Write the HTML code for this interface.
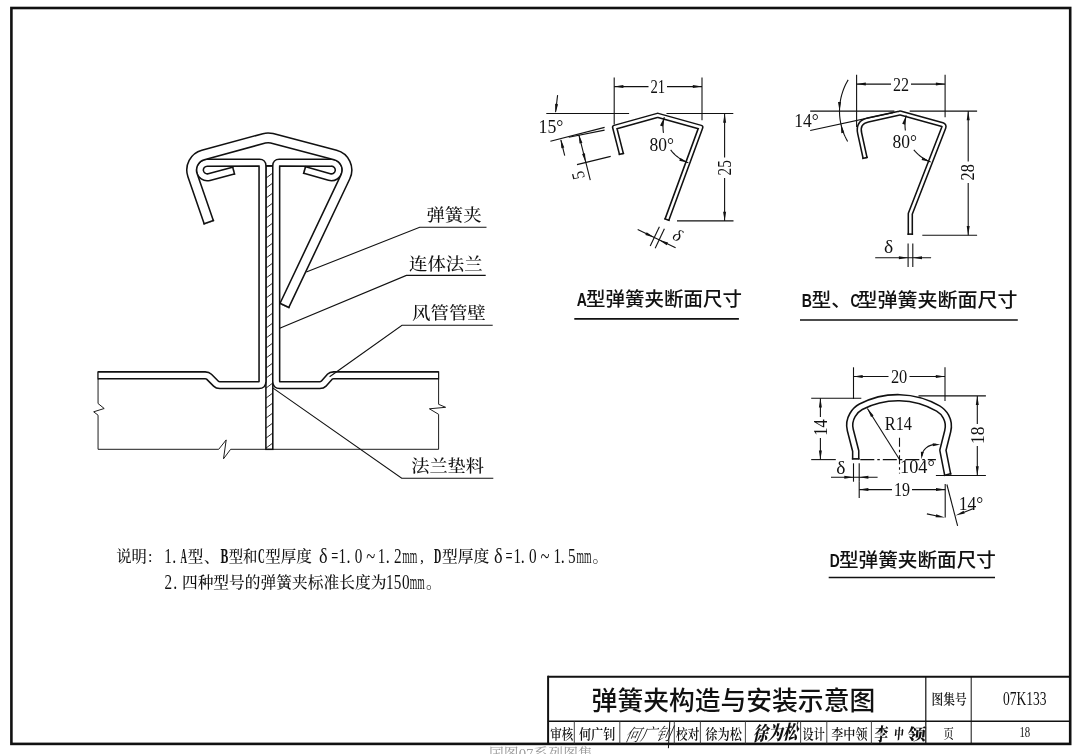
<!DOCTYPE html>
<html lang="zh-CN">
<head>
<meta charset="utf-8">
<title>弹簧夹构造与安装示意图 07K133</title>
<style>
html,body{margin:0;padding:0;background:#fff;}
body{width:1080px;height:754px;overflow:hidden;}
svg{display:block;filter:grayscale(1);}
text{white-space:pre;}
</style>
</head>
<body>
<svg width="1080" height="754" viewBox="0 0 1080 754">
<rect width="1080" height="754" fill="#fff"/>
<rect x="11.4" y="8" width="1058.8" height="735.9" fill="none" stroke="#111" stroke-width="2.6"/>
<line x1="548.1" y1="676.7" x2="1070.2" y2="676.7" stroke="#111" stroke-width="2" />
<line x1="548.1" y1="675.7" x2="548.1" y2="743.9" stroke="#111" stroke-width="2" />
<line x1="548.1" y1="721.2" x2="1070.2" y2="721.2" stroke="#111" stroke-width="1.6" />
<line x1="925.8" y1="676.7" x2="925.8" y2="743.9" stroke="#111" stroke-width="1.2" />
<line x1="971.2" y1="676.7" x2="971.2" y2="743.9" stroke="#111" stroke-width="1" />
<line x1="574.3" y1="721.2" x2="574.3" y2="743.9" stroke="#333" stroke-width="0.9" />
<line x1="619.8" y1="721.2" x2="619.8" y2="743.9" stroke="#333" stroke-width="0.9" />
<line x1="674.3" y1="721.2" x2="674.3" y2="743.9" stroke="#333" stroke-width="0.9" />
<line x1="700.4" y1="721.2" x2="700.4" y2="743.9" stroke="#333" stroke-width="0.9" />
<line x1="745.4" y1="721.2" x2="745.4" y2="743.9" stroke="#333" stroke-width="0.9" />
<line x1="800.6" y1="721.2" x2="800.6" y2="743.9" stroke="#333" stroke-width="0.9" />
<line x1="826.8" y1="721.2" x2="826.8" y2="743.9" stroke="#333" stroke-width="0.9" />
<line x1="871.4" y1="721.2" x2="871.4" y2="743.9" stroke="#333" stroke-width="0.9" />
<polyline points="98.05,371.7 98.05,403.5 104.2,408.5 93.7,411.8 98.05,415.2 98.05,449.3 218.7,449.3 226.2,439.9 223.5,458.8 230.6,449.3 265.9,449.3" fill="none" stroke="#111" stroke-width="0.95" />
<polyline points="272.8,449.3 438.6,449.3 438.6,414.3 429.4,408.8 445.6,407.3 438.6,404.3 438.6,371.7" fill="none" stroke="#111" stroke-width="0.95" />
<rect x="265.9" y="165.9" width="6.9" height="283.4" fill="#fff" stroke="#111" stroke-width="1.55"/>
<line x1="265.9" y1="178.2" x2="272.8" y2="173" stroke="#111" stroke-width="0.9" />
<line x1="265.9" y1="188.2" x2="272.8" y2="183" stroke="#111" stroke-width="0.9" />
<line x1="265.9" y1="198.2" x2="272.8" y2="193" stroke="#111" stroke-width="0.9" />
<line x1="265.9" y1="208.2" x2="272.8" y2="203" stroke="#111" stroke-width="0.9" />
<line x1="265.9" y1="218.2" x2="272.8" y2="213" stroke="#111" stroke-width="0.9" />
<line x1="265.9" y1="228.2" x2="272.8" y2="223" stroke="#111" stroke-width="0.9" />
<line x1="265.9" y1="238.2" x2="272.8" y2="233" stroke="#111" stroke-width="0.9" />
<line x1="265.9" y1="248.2" x2="272.8" y2="243" stroke="#111" stroke-width="0.9" />
<line x1="265.9" y1="258.2" x2="272.8" y2="253" stroke="#111" stroke-width="0.9" />
<line x1="265.9" y1="268.2" x2="272.8" y2="263" stroke="#111" stroke-width="0.9" />
<line x1="265.9" y1="278.2" x2="272.8" y2="273" stroke="#111" stroke-width="0.9" />
<line x1="265.9" y1="288.2" x2="272.8" y2="283" stroke="#111" stroke-width="0.9" />
<line x1="265.9" y1="298.2" x2="272.8" y2="293" stroke="#111" stroke-width="0.9" />
<line x1="265.9" y1="308.2" x2="272.8" y2="303" stroke="#111" stroke-width="0.9" />
<line x1="265.9" y1="318.2" x2="272.8" y2="313" stroke="#111" stroke-width="0.9" />
<line x1="265.9" y1="328.2" x2="272.8" y2="323" stroke="#111" stroke-width="0.9" />
<line x1="265.9" y1="338.2" x2="272.8" y2="333" stroke="#111" stroke-width="0.9" />
<line x1="265.9" y1="348.2" x2="272.8" y2="343" stroke="#111" stroke-width="0.9" />
<line x1="265.9" y1="358.2" x2="272.8" y2="353" stroke="#111" stroke-width="0.9" />
<line x1="265.9" y1="368.2" x2="272.8" y2="363" stroke="#111" stroke-width="0.9" />
<line x1="265.9" y1="378.2" x2="272.8" y2="373" stroke="#111" stroke-width="0.9" />
<line x1="265.9" y1="388.2" x2="272.8" y2="383" stroke="#111" stroke-width="0.9" />
<line x1="265.9" y1="398.2" x2="272.8" y2="393" stroke="#111" stroke-width="0.9" />
<line x1="265.9" y1="408.2" x2="272.8" y2="403" stroke="#111" stroke-width="0.9" />
<line x1="265.9" y1="418.2" x2="272.8" y2="413" stroke="#111" stroke-width="0.9" />
<line x1="265.9" y1="428.2" x2="272.8" y2="423" stroke="#111" stroke-width="0.9" />
<line x1="265.9" y1="438.2" x2="272.8" y2="433" stroke="#111" stroke-width="0.9" />
<line x1="265.9" y1="448.2" x2="272.8" y2="443" stroke="#111" stroke-width="0.9" />
<path d="M234.3,170.3 L209.09,177.05 A7.3,7.3 0 1 1 207.2,162.7 L259.5,162.65 Q262.5,162.65 262.5,165.65 L262.5,381.5 Q262.5,385.1 258.9,385.1 L219.8,385.1 Q217.4,385.1 216,383.7 L209,376.7 Q207.6,375.3 205.2,375.3 L98.05,375.3" fill="none" stroke="#111" stroke-width="8.45" stroke-linejoin="round"/>
<path d="M234.3,170.3 L209.09,177.05 A7.3,7.3 0 1 1 207.2,162.7 L259.5,162.65 Q262.5,162.65 262.5,165.65 L262.5,381.5 Q262.5,385.1 258.9,385.1 L219.8,385.1 Q217.4,385.1 216,383.7 L209,376.7 Q207.6,375.3 205.2,375.3 L98.05,375.3" fill="none" stroke="#fff" stroke-width="5.35" stroke-linejoin="round"/>
<line x1="234.64" y1="174.58" x2="232.46" y2="166.42" stroke="#111" stroke-width="1.55" />
<line x1="98.05" y1="371.2" x2="98.05" y2="379.4" stroke="#111" stroke-width="1.1" />
<path d="M303.9,169.8 L329.41,177.02 A7.3,7.3 0 1 0 331.4,162.7 L279.2,162.65 Q276.2,162.65 276.2,165.65 L276.2,381.5 Q276.2,385.1 279.8,385.1 L319.8,385.1 Q322.2,385.1 323.6,383.7 L329.8,376.7 Q331.2,375.3 333.6,375.3 L438.6,375.3" fill="none" stroke="#111" stroke-width="8.45" stroke-linejoin="round"/>
<path d="M303.9,169.8 L329.41,177.02 A7.3,7.3 0 1 0 331.4,162.7 L279.2,162.65 Q276.2,162.65 276.2,165.65 L276.2,381.5 Q276.2,385.1 279.8,385.1 L319.8,385.1 Q322.2,385.1 323.6,383.7 L329.8,376.7 Q331.2,375.3 333.6,375.3 L438.6,375.3" fill="none" stroke="#fff" stroke-width="5.35" stroke-linejoin="round"/>
<line x1="305.8" y1="165.95" x2="303.49" y2="174.08" stroke="#111" stroke-width="1.55" />
<line x1="438.6" y1="371.2" x2="438.6" y2="379.4" stroke="#111" stroke-width="1.1" />
<line x1="265.9" y1="165.9" x2="272.8" y2="165.9" stroke="#111" stroke-width="1.55" />
<path d="M209,222.8 L192.5,175.08 A15.55,15.55 0 0 1 203.11,155 L264.14,138.35 Q268,137.3 271.87,138.31 L335.34,154.96 A15.55,15.55 0 0 1 345.45,176.66 L284.1,306.1" fill="none" stroke="#111" stroke-width="11.25" stroke-linejoin="round"/>
<path d="M209,222.8 L192.5,175.08 A15.55,15.55 0 0 1 203.11,155 L264.14,138.35 Q268,137.3 271.87,138.31 L335.34,154.96 A15.55,15.55 0 0 1 345.45,176.66 L284.1,306.1" fill="none" stroke="#fff" stroke-width="8.15" stroke-linejoin="round"/>
<line x1="203.43" y1="223.91" x2="214.06" y2="220.23" stroke="#111" stroke-width="1.55" />
<line x1="279.35" y1="302.99" x2="289.51" y2="307.81" stroke="#111" stroke-width="1.55" />
<polyline points="306.3,272.1 419.7,227.2 486.5,227.2" fill="none" stroke="#111" stroke-width="1.1" />
<polyline points="279.7,328.2 406.4,275.4 485.7,275.4" fill="none" stroke="#111" stroke-width="1.1" />
<polyline points="329.6,376.7 402,325.2 492.7,325.2" fill="none" stroke="#111" stroke-width="1.1" />
<polyline points="273.1,388.1 401.7,478.3 493.3,478.3" fill="none" stroke="#111" stroke-width="1.1" />
<path d="M621.6,154.6 L614.6,127.3 L657.7,115.3 L700.8,127.3 L666.7,220.3" fill="none" stroke="#111" stroke-width="5.55" stroke-linejoin="round"/>
<path d="M621.6,154.6 L614.6,127.3 L657.7,115.3 L700.8,127.3 L666.7,220.3" fill="none" stroke="#fff" stroke-width="2.45" stroke-linejoin="round"/>
<line x1="618.72" y1="154.54" x2="624.1" y2="153.16" stroke="#111" stroke-width="1.55" />
<line x1="664.35" y1="218.63" x2="669.57" y2="220.51" stroke="#111" stroke-width="1.55" />
<line x1="614.2" y1="77.4" x2="614.2" y2="124.5" stroke="#111" stroke-width="1.1" />
<line x1="702" y1="77.4" x2="702" y2="120.3" stroke="#111" stroke-width="1.1" />
<line x1="614.2" y1="86.6" x2="648.5" y2="86.6" stroke="#111" stroke-width="1.1" />
<line x1="667" y1="86.6" x2="702" y2="86.6" stroke="#111" stroke-width="1.1" />
<polygon points="614.2,86.6 623.4,85.1 623.4,88.1" fill="#111"/>
<polygon points="702,86.6 692.8,88.1 692.8,85.1" fill="#111"/>
<text x="650.5" y="92.7" font-size="18" font-family="'Liberation Serif','Noto Serif CJK SC',serif" fill="#111" textLength="14.7" lengthAdjust="spacingAndGlyphs" >21</text>
<line x1="546.3" y1="113.5" x2="629.1" y2="113.5" stroke="#111" stroke-width="1.1" />
<line x1="666.5" y1="113.5" x2="733.3" y2="113.5" stroke="#111" stroke-width="1.1" />
<text x="538.6" y="132.6" font-size="18" font-family="'Liberation Serif','Noto Serif CJK SC',serif" fill="#111" textLength="24.8" lengthAdjust="spacingAndGlyphs" >15°</text>
<line x1="557.6" y1="95.1" x2="555.6" y2="112" stroke="#111" stroke-width="1.1" />
<polygon points="555.5,113.1 555.1,103.79 558.08,104.14" fill="#111"/>
<line x1="550.4" y1="141.3" x2="604.6" y2="127.4" stroke="#111" stroke-width="1.1" />
<line x1="568.8" y1="137.2" x2="604.6" y2="130.1" stroke="#111" stroke-width="1.1" />
<line x1="564.7" y1="155.6" x2="560.9" y2="140" stroke="#111" stroke-width="1.1" />
<polygon points="560.6,138.9 564.28,147.46 561.37,148.19" fill="#111"/>
<line x1="578.8" y1="134.6" x2="590.3" y2="180.1" stroke="#111" stroke-width="1.1" />
<polygon points="578.7,134.2 582.43,142.74 579.52,143.49" fill="#111"/>
<polygon points="585.8,162.5 582.07,153.96 584.98,153.21" fill="#111"/>
<line x1="577" y1="164.6" x2="610.7" y2="156.4" stroke="#111" stroke-width="1.1" />
<text x="585" y="177.8" font-size="18" font-family="'Liberation Serif','Noto Serif CJK SC',serif" fill="#111" textLength="8" lengthAdjust="spacingAndGlyphs" transform="rotate(-104 585 177.8)" >5</text>
<text x="649.5" y="150.9" font-size="18" font-family="'Liberation Serif','Noto Serif CJK SC',serif" fill="#111" textLength="24.5" lengthAdjust="spacingAndGlyphs" >80°</text>
<polyline points="664.29,117.16 663.83,119.1 663.47,121.06 663.21,123.03 663.05,125.01 663,127 663.05,128.99 663.21,130.97 663.47,132.94" fill="none" stroke="#111" stroke-width="1.1" />
<polyline points="670.65,149.87 672.04,151.61 673.54,153.26 675.12,154.83 676.8,156.3 678.56,157.66 680.39,158.93 682.3,160.08 684.27,161.12 686.3,162.04 688.38,162.84" fill="none" stroke="#111" stroke-width="1.1" />
<polygon points="664.29,117.16 662.88,126.38 660.03,125.45" fill="#111"/>
<polygon points="688.38,162.84 679.29,160.79 680.41,158.01" fill="#111"/>
<line x1="677" y1="220.9" x2="733.5" y2="220.9" stroke="#111" stroke-width="1.1" />
<line x1="724.6" y1="113.5" x2="724.6" y2="157.5" stroke="#111" stroke-width="1.1" />
<line x1="724.6" y1="178" x2="724.6" y2="220.9" stroke="#111" stroke-width="1.1" />
<polygon points="724.6,113.5 726.1,122.7 723.1,122.7" fill="#111"/>
<polygon points="724.6,220.9 723.1,211.7 726.1,211.7" fill="#111"/>
<text x="731" y="175.4" font-size="18" font-family="'Liberation Serif','Noto Serif CJK SC',serif" fill="#111" textLength="15.3" lengthAdjust="spacingAndGlyphs" transform="rotate(-90 731 175.4)" >25</text>
<line x1="659.4" y1="226.8" x2="650.2" y2="246" stroke="#111" stroke-width="1.1" />
<line x1="664.4" y1="228.8" x2="655.2" y2="248.2" stroke="#111" stroke-width="1.1" />
<line x1="637.7" y1="229.6" x2="675.6" y2="247.7" stroke="#111" stroke-width="1.1" />
<polygon points="654.3,237.5 645.35,234.89 646.64,232.19" fill="#111"/>
<polygon points="659.1,239.9 668.05,242.51 666.76,245.21" fill="#111"/>
<text x="671.5" y="238.5" font-size="17" font-family="'Liberation Serif','Noto Serif CJK SC',serif" fill="#111" font-style="italic" transform="rotate(27 671.5 238.5)" >δ</text>
<path d="M865.2,158.6 L859.7,133.4 Q857.2,122.4 868.0,120.0 L899.4,113.1 Q900.1,112.9 900.8,113.1 L942.4,124.6 Q944.6,125.3 943.8,127.5 L910.3,213.8 L910.3,234.9" fill="none" stroke="#111" stroke-width="5.55" stroke-linejoin="round"/>
<path d="M865.2,158.6 L859.7,133.4 Q857.2,122.4 868.0,120.0 L899.4,113.1 Q900.1,112.9 900.8,113.1 L942.4,124.6 Q944.6,125.3 943.8,127.5 L910.3,213.8 L910.3,234.9" fill="none" stroke="#fff" stroke-width="2.45" stroke-linejoin="round"/>
<line x1="862.33" y1="158.4" x2="867.76" y2="157.28" stroke="#111" stroke-width="1.55" />
<line x1="907.52" y1="234.12" x2="913.07" y2="234.12" stroke="#111" stroke-width="1.55" />
<line x1="856.6" y1="74.7" x2="856.6" y2="127" stroke="#111" stroke-width="1.1" />
<line x1="945.1" y1="74.7" x2="945.1" y2="117.2" stroke="#111" stroke-width="1.1" />
<line x1="856.6" y1="84.1" x2="891" y2="84.1" stroke="#111" stroke-width="1.1" />
<line x1="911" y1="84.1" x2="945.1" y2="84.1" stroke="#111" stroke-width="1.1" />
<polygon points="856.6,84.1 865.8,82.6 865.8,85.6" fill="#111"/>
<polygon points="945.1,84.1 935.9,85.6 935.9,82.6" fill="#111"/>
<text x="893" y="90.6" font-size="18" font-family="'Liberation Serif','Noto Serif CJK SC',serif" fill="#111" textLength="16.1" lengthAdjust="spacingAndGlyphs" >22</text>
<line x1="810.2" y1="111.1" x2="894.4" y2="111.1" stroke="#111" stroke-width="1.1" />
<line x1="909.7" y1="111.1" x2="977.1" y2="111.1" stroke="#111" stroke-width="1.1" />
<line x1="810.2" y1="130.5" x2="893" y2="112.6" stroke="#111" stroke-width="1.1" />
<text x="794.3" y="127.4" font-size="18" font-family="'Liberation Serif','Noto Serif CJK SC',serif" fill="#111" textLength="24.5" lengthAdjust="spacingAndGlyphs" >14°</text>
<polyline points="848.16,79.89 846.82,82.22 845.59,84.61 844.47,87.06 843.46,89.55 842.56,92.08 841.78,94.65 841.1,97.25 840.55,99.88 840.11,102.54 839.79,105.2 839.59,107.88 839.5,110.57 839.54,113.26 839.69,115.94 839.97,118.62 840.36,121.28 840.87,123.91 841.5,126.53 842.24,129.11 843.09,131.66 844.06,134.17 845.14,136.63 846.33,139.04 847.62,141.4" fill="none" stroke="#111" stroke-width="1.1" />
<polygon points="839.5,111.1 838,101.9 841,101.9" fill="#111"/>
<polygon points="840.87,123.91 844.25,132.59 841.31,133.22" fill="#111"/>
<text x="892.4" y="148.3" font-size="18" font-family="'Liberation Serif','Noto Serif CJK SC',serif" fill="#111" textLength="24.5" lengthAdjust="spacingAndGlyphs" >80°</text>
<polyline points="906.17,115.44 905.76,117.29 905.43,119.16 905.2,121.04 905.05,122.93 905,124.83 905.04,126.72 905.17,128.61 905.38,130.5" fill="none" stroke="#111" stroke-width="1.1" />
<polyline points="913.8,149.86 915.17,151.46 916.62,152.98 918.15,154.42 919.75,155.78 921.42,157.06 923.16,158.24 924.96,159.33 926.81,160.32 928.72,161.21 930.67,162" fill="none" stroke="#111" stroke-width="1.1" />
<polygon points="906.17,115.44 905.08,124.7 902.2,123.87" fill="#111"/>
<polygon points="930.67,162 921.57,159.94 922.7,157.16" fill="#111"/>
<line x1="922.3" y1="235.2" x2="977.1" y2="235.2" stroke="#111" stroke-width="1.1" />
<line x1="968.2" y1="111.1" x2="968.2" y2="161.5" stroke="#111" stroke-width="1.1" />
<line x1="968.2" y1="183" x2="968.2" y2="235.2" stroke="#111" stroke-width="1.1" />
<polygon points="968.2,111.1 969.7,120.3 966.7,120.3" fill="#111"/>
<polygon points="968.2,235.2 966.7,226 969.7,226" fill="#111"/>
<text x="974.2" y="180.5" font-size="18" font-family="'Liberation Serif','Noto Serif CJK SC',serif" fill="#111" textLength="16.3" lengthAdjust="spacingAndGlyphs" transform="rotate(-90 974.2 180.5)" >28</text>
<line x1="908.1" y1="243.5" x2="908.1" y2="266.9" stroke="#111" stroke-width="1.1" />
<line x1="912.8" y1="243.5" x2="912.8" y2="266.9" stroke="#111" stroke-width="1.1" />
<line x1="875.2" y1="257.7" x2="931.1" y2="257.7" stroke="#111" stroke-width="1.1" />
<polygon points="908.1,257.7 898.9,259.2 898.9,256.2" fill="#111"/>
<polygon points="912.8,257.7 922,256.2 922,259.2" fill="#111"/>
<text x="884" y="253.4" font-size="18" font-family="'Liberation Serif','Noto Serif CJK SC',serif" fill="#111" textLength="9.2" lengthAdjust="spacingAndGlyphs" >δ</text>
<line x1="860.3" y1="459.6" x2="935.9" y2="459.6" stroke="#111" stroke-width="1.1" stroke-dasharray="14 3 2.5 3"/>
<line x1="899.5" y1="437.7" x2="899.5" y2="473.5" stroke="#111" stroke-width="1.1" stroke-dasharray="9 3 2.5 3"/>
<path d="M855.7,459.6 L855.7,451 L850.3,430 C847.39,418.36 855.54,409.52 860.86,406.75 A80.3,80.3 0 0 1 938.13,408.5 C943.32,411.51 950.64,419.57 947.7,431.2 L942.9,450.2 L947.8,475.3" fill="none" stroke="#111" stroke-width="7.65" stroke-linejoin="round"/>
<path d="M855.7,459.6 L855.7,451 L850.3,430 C847.39,418.36 855.54,409.52 860.86,406.75 A80.3,80.3 0 0 1 938.13,408.5 C943.32,411.51 950.64,419.57 947.7,431.2 L942.9,450.2 L947.8,475.3" fill="none" stroke="#fff" stroke-width="4.55" stroke-linejoin="round"/>
<line x1="851.88" y1="458.83" x2="859.53" y2="458.83" stroke="#111" stroke-width="1.55" />
<line x1="943.9" y1="475.47" x2="951.32" y2="473.62" stroke="#111" stroke-width="1.55" />
<line x1="853.5" y1="367.3" x2="853.5" y2="398.9" stroke="#111" stroke-width="1.1" />
<line x1="945" y1="367.3" x2="945" y2="401" stroke="#111" stroke-width="1.1" />
<line x1="853.5" y1="376.45" x2="888.5" y2="376.45" stroke="#111" stroke-width="1.1" />
<line x1="909.5" y1="376.45" x2="945" y2="376.45" stroke="#111" stroke-width="1.1" />
<polygon points="853.5,376.45 862.7,374.95 862.7,377.95" fill="#111"/>
<polygon points="945,376.45 935.8,377.95 935.8,374.95" fill="#111"/>
<text x="890.9" y="382.7" font-size="18" font-family="'Liberation Serif','Noto Serif CJK SC',serif" fill="#111" textLength="16.4" lengthAdjust="spacingAndGlyphs" >20</text>
<line x1="811.2" y1="398.3" x2="861.3" y2="398.3" stroke="#111" stroke-width="1.1" />
<line x1="811.2" y1="459.6" x2="835.8" y2="459.6" stroke="#111" stroke-width="1.1" />
<line x1="820.4" y1="398.3" x2="820.4" y2="417" stroke="#111" stroke-width="1.1" />
<line x1="820.4" y1="438" x2="820.4" y2="459.6" stroke="#111" stroke-width="1.1" />
<polygon points="820.4,398.3 821.9,407.5 818.9,407.5" fill="#111"/>
<polygon points="820.4,459.6 818.9,450.4 821.9,450.4" fill="#111"/>
<text x="826.6" y="435.7" font-size="18" font-family="'Liberation Serif','Noto Serif CJK SC',serif" fill="#111" textLength="16.3" lengthAdjust="spacingAndGlyphs" transform="rotate(-90 826.6 435.7)" >14</text>
<line x1="899.5" y1="459.5" x2="867.4" y2="408.5" stroke="#111" stroke-width="1.1" />
<polygon points="867.4,408.5 873.57,415.49 871.03,417.08" fill="#111"/>
<text x="884.8" y="429.7" font-size="18" font-family="'Liberation Serif','Noto Serif CJK SC',serif" fill="#111" textLength="27.2" lengthAdjust="spacingAndGlyphs" >R14</text>
<text x="900.1" y="473.4" font-size="18" font-family="'Liberation Serif','Noto Serif CJK SC',serif" fill="#111" textLength="34.7" lengthAdjust="spacingAndGlyphs" >104°</text>
<path d="M921.7,456.0 C922.5,449.5 928,444.6 936.0,444.4" fill="none" stroke="#111" stroke-width="1.1" />
<polygon points="921.4,459.3 920.83,451.67 923.8,452.04" fill="#111"/>
<polygon points="940.3,444.4 932.89,446.29 932.73,443.29" fill="#111"/>
<line x1="918.5" y1="395.9" x2="985.9" y2="395.9" stroke="#111" stroke-width="1.1" />
<line x1="935.9" y1="475.5" x2="985.9" y2="475.5" stroke="#111" stroke-width="1.1" />
<line x1="977.3" y1="395.9" x2="977.3" y2="424" stroke="#111" stroke-width="1.1" />
<line x1="977.3" y1="446" x2="977.3" y2="475.5" stroke="#111" stroke-width="1.1" />
<polygon points="977.3,395.9 978.8,405.1 975.8,405.1" fill="#111"/>
<polygon points="977.3,475.5 975.8,466.3 978.8,466.3" fill="#111"/>
<text x="984.4" y="443.9" font-size="18" font-family="'Liberation Serif','Noto Serif CJK SC',serif" fill="#111" textLength="17.4" lengthAdjust="spacingAndGlyphs" transform="rotate(-90 984.4 443.9)" >18</text>
<line x1="853.5" y1="463.3" x2="853.5" y2="481.7" stroke="#111" stroke-width="1.1" />
<line x1="859.2" y1="463.3" x2="859.2" y2="481.7" stroke="#111" stroke-width="1.1" />
<line x1="831" y1="477.2" x2="877.6" y2="477.2" stroke="#111" stroke-width="1.1" />
<polygon points="853.5,477.2 844.3,478.7 844.3,475.7" fill="#111"/>
<polygon points="859.2,477.2 868.4,475.7 868.4,478.7" fill="#111"/>
<text x="836.2" y="474.3" font-size="18" font-family="'Liberation Serif','Noto Serif CJK SC',serif" fill="#111" textLength="9.2" lengthAdjust="spacingAndGlyphs" >δ</text>
<line x1="859.2" y1="481.7" x2="859.2" y2="498" stroke="#111" stroke-width="1.1" />
<line x1="945.2" y1="484" x2="945.2" y2="517.6" stroke="#111" stroke-width="1.1" />
<line x1="859.2" y1="489.6" x2="892" y2="489.6" stroke="#111" stroke-width="1.1" />
<line x1="912" y1="489.6" x2="945.2" y2="489.6" stroke="#111" stroke-width="1.1" />
<polygon points="859.2,489.6 868.4,488.1 868.4,491.1" fill="#111"/>
<polygon points="945.2,489.6 936,491.1 936,488.1" fill="#111"/>
<text x="894" y="495.8" font-size="18" font-family="'Liberation Serif','Noto Serif CJK SC',serif" fill="#111" textLength="16" lengthAdjust="spacingAndGlyphs" >19</text>
<line x1="946.9" y1="484.5" x2="957.6" y2="525.8" stroke="#111" stroke-width="1.1" />
<line x1="926.9" y1="513.9" x2="937" y2="516" stroke="#111" stroke-width="1.1" />
<polygon points="944.9,517.6 935.59,517.15 936.21,514.22" fill="#111"/>
<line x1="972.9" y1="508.7" x2="963.5" y2="512.4" stroke="#111" stroke-width="1.1" />
<polygon points="955.6,515.5 963.61,510.73 964.71,513.52" fill="#111"/>
<text x="958.8" y="510.2" font-size="18" font-family="'Liberation Serif','Noto Serif CJK SC',serif" fill="#111" textLength="24.5" lengthAdjust="spacingAndGlyphs" >14°</text>
<text x="426.4" y="221.3" font-size="17.5" font-family="'Liberation Serif','Noto Serif CJK SC',serif" fill="#111" textLength="55.2" lengthAdjust="spacingAndGlyphs" font-weight="500" >弹簧夹</text>
<text x="409" y="270.3" font-size="17.5" font-family="'Liberation Serif','Noto Serif CJK SC',serif" fill="#111" textLength="73.6" lengthAdjust="spacingAndGlyphs" font-weight="500" >连体法兰</text>
<text x="412" y="319.3" font-size="17.5" font-family="'Liberation Serif','Noto Serif CJK SC',serif" fill="#111" textLength="73.8" lengthAdjust="spacingAndGlyphs" font-weight="500" >风管管壁</text>
<text x="411.2" y="472.3" font-size="17.5" font-family="'Liberation Serif','Noto Serif CJK SC',serif" fill="#111" textLength="72.8" lengthAdjust="spacingAndGlyphs" font-weight="500" >法兰垫料</text>
<text x="116.2" y="562.2" font-size="15.6" font-family="'Liberation Serif','Noto Serif CJK SC',serif" fill="#111" textLength="30.6" lengthAdjust="spacingAndGlyphs" font-weight="500" >说明</text>
<text x="148" y="562.2" font-size="16" font-family="'Liberation Serif','Noto Serif CJK SC',serif" fill="#111" >:</text>
<text x="164.3" y="563.1" font-size="21.5" font-family="'Liberation Serif','Noto Serif CJK SC',serif" fill="#111" textLength="7.6" lengthAdjust="spacingAndGlyphs" >1</text>
<text x="172.3" y="563.1" font-size="21.5" font-family="'Liberation Serif','Noto Serif CJK SC',serif" fill="#111" textLength="4" lengthAdjust="spacingAndGlyphs" >.</text>
<text x="180.6" y="563.1" font-size="21.5" font-family="'Liberation Serif','Noto Serif CJK SC',serif" fill="#111" textLength="6.4" lengthAdjust="spacingAndGlyphs" font-weight="700" >A</text>
<text x="187.8" y="562.2" font-size="15.6" font-family="'Liberation Serif','Noto Serif CJK SC',serif" fill="#111" font-weight="500" >型</text>
<text x="204" y="562.2" font-size="15.6" font-family="'Liberation Serif','Noto Serif CJK SC',serif" fill="#111" font-weight="500" >、</text>
<text x="220.4" y="563.1" font-size="21.5" font-family="'Liberation Serif','Noto Serif CJK SC',serif" fill="#111" textLength="7.8" lengthAdjust="spacingAndGlyphs" font-weight="700" >B</text>
<text x="228.7" y="562.2" font-size="15.6" font-family="'Liberation Serif','Noto Serif CJK SC',serif" fill="#111" textLength="28.8" lengthAdjust="spacingAndGlyphs" font-weight="500" >型和</text>
<text x="258" y="563.1" font-size="21.5" font-family="'Liberation Serif','Noto Serif CJK SC',serif" fill="#111" textLength="6.8" lengthAdjust="spacingAndGlyphs" font-weight="700" >C</text>
<text x="265.3" y="562.2" font-size="15.6" font-family="'Liberation Serif','Noto Serif CJK SC',serif" fill="#111" textLength="46.6" lengthAdjust="spacingAndGlyphs" font-weight="500" >型厚度</text>
<text x="318.9" y="563.1" font-size="21.5" font-family="'Liberation Serif','Noto Serif CJK SC',serif" fill="#111" textLength="8.6" lengthAdjust="spacingAndGlyphs" >δ</text>
<text x="331.2" y="563.1" font-size="21.5" font-family="'Liberation Serif','Noto Serif CJK SC',serif" fill="#111" textLength="7" lengthAdjust="spacingAndGlyphs" >=</text>
<text x="338.6" y="563.1" font-size="21.5" font-family="'Liberation Serif','Noto Serif CJK SC',serif" fill="#111" textLength="7.6" lengthAdjust="spacingAndGlyphs" >1</text>
<text x="346.6" y="563.1" font-size="21.5" font-family="'Liberation Serif','Noto Serif CJK SC',serif" fill="#111" textLength="4" lengthAdjust="spacingAndGlyphs" >.</text>
<text x="354.7" y="563.1" font-size="21.5" font-family="'Liberation Serif','Noto Serif CJK SC',serif" fill="#111" textLength="7.6" lengthAdjust="spacingAndGlyphs" >0</text>
<text x="366.2" y="563.1" font-size="21.5" font-family="'Liberation Serif','Noto Serif CJK SC',serif" fill="#111" textLength="9" lengthAdjust="spacingAndGlyphs" >~</text>
<text x="377.8" y="563.1" font-size="21.5" font-family="'Liberation Serif','Noto Serif CJK SC',serif" fill="#111" textLength="7.6" lengthAdjust="spacingAndGlyphs" >1</text>
<text x="385.8" y="563.1" font-size="21.5" font-family="'Liberation Serif','Noto Serif CJK SC',serif" fill="#111" textLength="4" lengthAdjust="spacingAndGlyphs" >.</text>
<text x="393.9" y="563.1" font-size="21.5" font-family="'Liberation Serif','Noto Serif CJK SC',serif" fill="#111" textLength="7.6" lengthAdjust="spacingAndGlyphs" >2</text>
<text x="402.2" y="563.1" font-size="21.5" font-family="'Liberation Serif','Noto Serif CJK SC',serif" fill="#111" textLength="15" lengthAdjust="spacingAndGlyphs" >mm</text>
<text x="420" y="562.2" font-size="16" font-family="'Liberation Serif','Noto Serif CJK SC',serif" fill="#111" >,</text>
<text x="434" y="563.1" font-size="21.5" font-family="'Liberation Serif','Noto Serif CJK SC',serif" fill="#111" textLength="7.3" lengthAdjust="spacingAndGlyphs" font-weight="700" >D</text>
<text x="442" y="562.2" font-size="15.6" font-family="'Liberation Serif','Noto Serif CJK SC',serif" fill="#111" textLength="47.2" lengthAdjust="spacingAndGlyphs" font-weight="500" >型厚度</text>
<text x="493.9" y="563.1" font-size="21.5" font-family="'Liberation Serif','Noto Serif CJK SC',serif" fill="#111" textLength="8.6" lengthAdjust="spacingAndGlyphs" >δ</text>
<text x="505.4" y="563.1" font-size="21.5" font-family="'Liberation Serif','Noto Serif CJK SC',serif" fill="#111" textLength="7" lengthAdjust="spacingAndGlyphs" >=</text>
<text x="513.6" y="563.1" font-size="21.5" font-family="'Liberation Serif','Noto Serif CJK SC',serif" fill="#111" textLength="7.6" lengthAdjust="spacingAndGlyphs" >1</text>
<text x="520.8" y="563.1" font-size="21.5" font-family="'Liberation Serif','Noto Serif CJK SC',serif" fill="#111" textLength="4" lengthAdjust="spacingAndGlyphs" >.</text>
<text x="528.9" y="563.1" font-size="21.5" font-family="'Liberation Serif','Noto Serif CJK SC',serif" fill="#111" textLength="7.6" lengthAdjust="spacingAndGlyphs" >0</text>
<text x="540.4" y="563.1" font-size="21.5" font-family="'Liberation Serif','Noto Serif CJK SC',serif" fill="#111" textLength="9" lengthAdjust="spacingAndGlyphs" >~</text>
<text x="553.6" y="563.1" font-size="21.5" font-family="'Liberation Serif','Noto Serif CJK SC',serif" fill="#111" textLength="7.6" lengthAdjust="spacingAndGlyphs" >1</text>
<text x="560.8" y="563.1" font-size="21.5" font-family="'Liberation Serif','Noto Serif CJK SC',serif" fill="#111" textLength="4" lengthAdjust="spacingAndGlyphs" >.</text>
<text x="568" y="563.1" font-size="21.5" font-family="'Liberation Serif','Noto Serif CJK SC',serif" fill="#111" textLength="7.6" lengthAdjust="spacingAndGlyphs" >5</text>
<text x="576.5" y="563.1" font-size="21.5" font-family="'Liberation Serif','Noto Serif CJK SC',serif" fill="#111" textLength="15" lengthAdjust="spacingAndGlyphs" >mm</text>
<text x="592.6" y="562.2" font-size="15.6" font-family="'Liberation Serif','Noto Serif CJK SC',serif" fill="#111" font-weight="500" >。</text>
<text x="164.4" y="588.6" font-size="21.5" font-family="'Liberation Serif','Noto Serif CJK SC',serif" fill="#111" textLength="7.6" lengthAdjust="spacingAndGlyphs" >2</text>
<text x="173.3" y="588.6" font-size="21.5" font-family="'Liberation Serif','Noto Serif CJK SC',serif" fill="#111" textLength="4" lengthAdjust="spacingAndGlyphs" >.</text>
<text x="181.9" y="587.7" font-size="15.6" font-family="'Liberation Serif','Noto Serif CJK SC',serif" fill="#111" textLength="204.6" lengthAdjust="spacingAndGlyphs" font-weight="500" >四种型号的弹簧夹标准长度为</text>
<text x="386.1" y="588.6" font-size="21.5" font-family="'Liberation Serif','Noto Serif CJK SC',serif" fill="#111" textLength="7.6" lengthAdjust="spacingAndGlyphs" >1</text>
<text x="393.8" y="588.6" font-size="21.5" font-family="'Liberation Serif','Noto Serif CJK SC',serif" fill="#111" textLength="7.6" lengthAdjust="spacingAndGlyphs" >5</text>
<text x="402.1" y="588.6" font-size="21.5" font-family="'Liberation Serif','Noto Serif CJK SC',serif" fill="#111" textLength="7.6" lengthAdjust="spacingAndGlyphs" >0</text>
<text x="409.8" y="588.6" font-size="21.5" font-family="'Liberation Serif','Noto Serif CJK SC',serif" fill="#111" textLength="15" lengthAdjust="spacingAndGlyphs" >mm</text>
<text x="426" y="587.7" font-size="15.6" font-family="'Liberation Serif','Noto Serif CJK SC',serif" fill="#111" font-weight="500" >。</text>
<text x="576.8" y="306.2" font-size="18.8" font-family="'Liberation Sans','Noto Sans CJK SC',sans-serif" fill="#111" textLength="10.2" lengthAdjust="spacingAndGlyphs" font-weight="700" >A</text>
<text x="586" y="306.2" font-size="18.8" font-family="'Liberation Sans','Noto Sans CJK SC',sans-serif" fill="#111" textLength="156" lengthAdjust="spacingAndGlyphs" font-weight="500" >型弹簧夹断面尺寸</text>
<line x1="574.3" y1="318.9" x2="738.9" y2="318.9" stroke="#111" stroke-width="1.7" />
<text x="801.8" y="306.6" font-size="18.8" font-family="'Liberation Sans','Noto Sans CJK SC',sans-serif" fill="#111" textLength="10.2" lengthAdjust="spacingAndGlyphs" font-weight="700" >B</text>
<text x="811.6" y="306.6" font-size="18.8" font-family="'Liberation Sans','Noto Sans CJK SC',sans-serif" fill="#111" textLength="39.4" lengthAdjust="spacingAndGlyphs" font-weight="500" >型、</text>
<text x="850.4" y="306.6" font-size="18.8" font-family="'Liberation Sans','Noto Sans CJK SC',sans-serif" fill="#111" textLength="9.6" lengthAdjust="spacingAndGlyphs" font-weight="700" >C</text>
<text x="857.4" y="306.6" font-size="18.8" font-family="'Liberation Sans','Noto Sans CJK SC',sans-serif" fill="#111" textLength="160" lengthAdjust="spacingAndGlyphs" font-weight="500" >型弹簧夹断面尺寸</text>
<line x1="800" y1="320" x2="1017.8" y2="320" stroke="#111" stroke-width="1.7" />
<text x="829.8" y="566.6" font-size="18.8" font-family="'Liberation Sans','Noto Sans CJK SC',sans-serif" fill="#111" textLength="10" lengthAdjust="spacingAndGlyphs" font-weight="700" >D</text>
<text x="839" y="566.6" font-size="18.8" font-family="'Liberation Sans','Noto Sans CJK SC',sans-serif" fill="#111" textLength="157" lengthAdjust="spacingAndGlyphs" font-weight="500" >型弹簧夹断面尺寸</text>
<line x1="828.7" y1="577.5" x2="995" y2="577.5" stroke="#111" stroke-width="1.7" />
<text x="591.6" y="709.6" font-size="25.7" font-family="'Liberation Sans','Noto Sans CJK SC',sans-serif" fill="#111" textLength="283.6" lengthAdjust="spacingAndGlyphs" font-weight="500" >弹簧夹构造与安装示意图</text>
<text x="931.6" y="703.8" font-size="13.6" font-family="'Liberation Serif','Noto Serif CJK SC',serif" fill="#111" textLength="35" lengthAdjust="spacingAndGlyphs" font-weight="600" >图集号</text>
<text x="1003" y="705" font-size="19.4" font-family="'Liberation Serif','Noto Serif CJK SC',serif" fill="#111" textLength="43.6" lengthAdjust="spacingAndGlyphs" >07K133</text>
<text x="943.4" y="738.3" font-size="12.6" font-family="'Liberation Serif','Noto Serif CJK SC',serif" fill="#111" textLength="10.2" lengthAdjust="spacingAndGlyphs" font-weight="500" >页</text>
<text x="1019.4" y="737.3" font-size="15" font-family="'Liberation Serif','Noto Serif CJK SC',serif" fill="#111" textLength="10.8" lengthAdjust="spacingAndGlyphs" >18</text>
<text x="550.2" y="738.6" font-size="14.2" font-family="'Liberation Serif','Noto Serif CJK SC',serif" fill="#111" textLength="23" lengthAdjust="spacingAndGlyphs" font-weight="600" >审核</text>
<text x="578.9" y="738.6" font-size="14.2" font-family="'Liberation Serif','Noto Serif CJK SC',serif" fill="#111" textLength="36.6" lengthAdjust="spacingAndGlyphs" font-weight="600" >何广钊</text>
<text x="675.7" y="738.6" font-size="14.2" font-family="'Liberation Serif','Noto Serif CJK SC',serif" fill="#111" textLength="23.8" lengthAdjust="spacingAndGlyphs" font-weight="600" >校对</text>
<text x="705.3" y="738.6" font-size="14.2" font-family="'Liberation Serif','Noto Serif CJK SC',serif" fill="#111" textLength="36.6" lengthAdjust="spacingAndGlyphs" font-weight="600" >徐为松</text>
<text x="802.6" y="738.6" font-size="14.2" font-family="'Liberation Serif','Noto Serif CJK SC',serif" fill="#111" textLength="22.2" lengthAdjust="spacingAndGlyphs" font-weight="600" >设计</text>
<text x="831.3" y="738.6" font-size="14.2" font-family="'Liberation Serif','Noto Serif CJK SC',serif" fill="#111" textLength="36.2" lengthAdjust="spacingAndGlyphs" font-weight="600" >李中领</text>
<g transform="translate(624,741.2) skewX(-14) rotate(-2)">
<text x="0" y="0" font-size="17" font-family="'Liberation Serif','Noto Serif CJK SC',serif" fill="#111" textLength="46" lengthAdjust="spacingAndGlyphs" font-weight="300" font-style="italic" >何广钊</text>
</g>
<line x1="669.8" y1="721.5" x2="668.4" y2="748.2" stroke="#111" stroke-width="1" />
<g transform="translate(752.5,740.8) skewX(-16) rotate(-3)">
<text x="0" y="0" font-size="19.5" font-family="'Liberation Serif','Noto Serif CJK SC',serif" fill="#111" textLength="44.5" lengthAdjust="spacingAndGlyphs" font-weight="900" >徐为松</text>
</g>
<g transform="translate(874.0,740.6) skewX(-5)">
<text x="0" y="0" font-size="18.5" font-family="'Liberation Serif','Noto Serif CJK SC',serif" fill="#111" textLength="13.5" lengthAdjust="spacingAndGlyphs" font-weight="900" >李</text>
<text x="19.5" y="-1.5" font-size="14.5" font-family="'Liberation Serif','Noto Serif CJK SC',serif" fill="#111" textLength="9.5" lengthAdjust="spacingAndGlyphs" font-weight="900" >中</text>
<text x="33" y="-0.8" font-size="16" font-family="'Liberation Serif','Noto Serif CJK SC',serif" fill="#111" textLength="18.5" lengthAdjust="spacingAndGlyphs" font-weight="900" >领</text>
</g>
<text x="489" y="758.6" font-size="15.2" font-family="'Liberation Serif','Noto Serif CJK SC',serif" fill="#9a9a9a" textLength="103.8" lengthAdjust="spacingAndGlyphs" >国图07系列图集</text>
</svg>
</body>
</html>
